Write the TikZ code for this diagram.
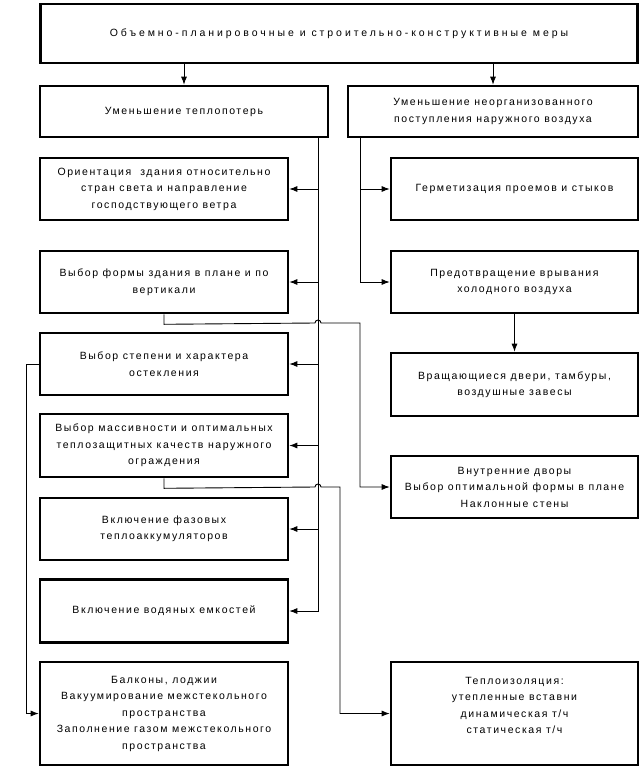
\documentclass[tikz,border=0pt]{standalone}
\usepackage{fontspec}
\setmainfont{Liberation Sans}[LetterSpace=15]
\usetikzlibrary{arrows.meta,calc}
\begin{document}
\begin{tikzpicture}[x=1pt,y=-1pt,
  box/.style={draw,line width=2.6pt,align=center,inner sep=0pt,font=\fontsize{10.5}{16.5}\selectfont},
  conn/.style={line width=0.9pt},
  arr/.style={conn,-{Latex[length=8pt,width=6pt]}}]
\useasboundingbox (0,0) rectangle (643,773);
% boxes
\node[box,minimum width=597pt,minimum height=59pt] (top) at (339,33.5)
  {\addfontfeatures{LetterSpace=28}Объемно-планировочные и строительно-конструктивные меры};
\node[box,minimum width=288pt,minimum height=51pt] (uteplo) at (184,111.5) {Уменьшение теплопотерь};
\node[box,minimum width=290pt,minimum height=51pt] (neorg) at (493,111.5) {Уменьшение неорганизованного\\поступления наружного воздуха};
% left column
\node[box,minimum width=248pt,minimum height=62pt] (orient) at (164,189) {Ориентация\ \ здания относительно\\стран света и направление\\господствующего ветра};
\node[box,minimum width=248pt,minimum height=62pt] (vform) at (164,282) {Выбор формы здания в плане и по\\вертикали};
\node[box,minimum width=248pt,minimum height=62pt] (steklo) at (164,364) {Выбор степени и характера\\остекления};
\node[box,minimum width=248pt,minimum height=63pt] (massiv) at (164,445.5) {Выбор массивности и оптимальных\\теплозащитных качеств наружного\\ограждения};
\node[box,minimum width=248pt,minimum height=62pt] (fazov) at (164,529) {Включение фазовых\\теплоаккумуляторов};
\node[box,minimum width=248pt,minimum height=63pt] (vodyan) at (164,611) {Включение водяных емкостей};
\node[box,minimum width=248pt,minimum height=103pt] (balkon) at (164,713.5) {Балконы, лоджии\\Вакуумирование межстекольного\\пространства\\Заполнение газом межстекольного\\пространства};
% right column
\node[box,minimum width=247pt,minimum height=62pt] (germet) at (514.5,189) {Герметизация проемов и стыков};
\node[box,minimum width=247pt,minimum height=62pt] (predotvr) at (514.5,282) {Предотвращение врывания\\холодного воздуха};
\node[box,minimum width=247pt,minimum height=63pt] (vrasch) at (514.5,384.5) {Вращающиеся двери, тамбуры,\\воздушные завесы};
\node[box,minimum width=247pt,minimum height=62pt] (dvory) at (514.5,487) {Внутренние дворы\\Выбор оптимальной формы в плане\\Наклонные стены};
\node[box,minimum width=247pt,minimum height=103pt] (teplo) at (514.5,713.5) {Теплоизоляция:\\утепленные вставни\\динамическая т/ч\\статическая т/ч\\\mbox{}};
% coordinates for trunks
\coordinate (tl) at (318,0);
\coordinate (tr) at (360,0);
\coordinate (tk) at (340,0);
\coordinate (ts) at (26,0);
% top arrows
\draw[arr] (top.south -| uteplo.north) -- (uteplo.north);
\draw[arr] (top.south -| neorg.north) -- (neorg.north);
% left trunk
\draw[arr] (uteplo.south -| tl) -- (tl |- vodyan.east) -- (vodyan.east);
\draw[arr] (tl |- orient.east) -- (orient.east);
\draw[arr] (tl |- vform.east) -- (vform.east);
\draw[arr] (tl |- steklo.east) -- (steklo.east);
\draw[arr] (tl |- massiv.east) -- (massiv.east);
\draw[arr] (tl |- fazov.east) -- (fazov.east);
% right trunk
\draw[arr] (neorg.south -| tr) -- (tr |- predotvr.west) -- (predotvr.west);
\draw[arr] (tr |- germet.west) -- (germet.west);
\draw[arr] (predotvr.south) -- (vrasch.north);
% form -> dvory with hop
\draw[arr] (vform.south) -- ($(vform.south)+(0,10)$) -- (315,323) arc[start angle=180,end angle=360,radius=3] -- (360,323) -- (tr |- dvory.west) -- (dvory.west);
% massiv -> teplo with hop
\draw[arr] (massiv.south) -- ($(massiv.south)+(0,10)$) -- (315,487) arc[start angle=180,end angle=360,radius=3] -- (340,487) -- (tk |- teplo.west) -- (teplo.west);
% steklo -> balkon
\draw[arr] (steklo.west) -- (ts |- steklo.west) -- (ts |- balkon.west) -- (balkon.west);
\end{tikzpicture}
\end{document}
